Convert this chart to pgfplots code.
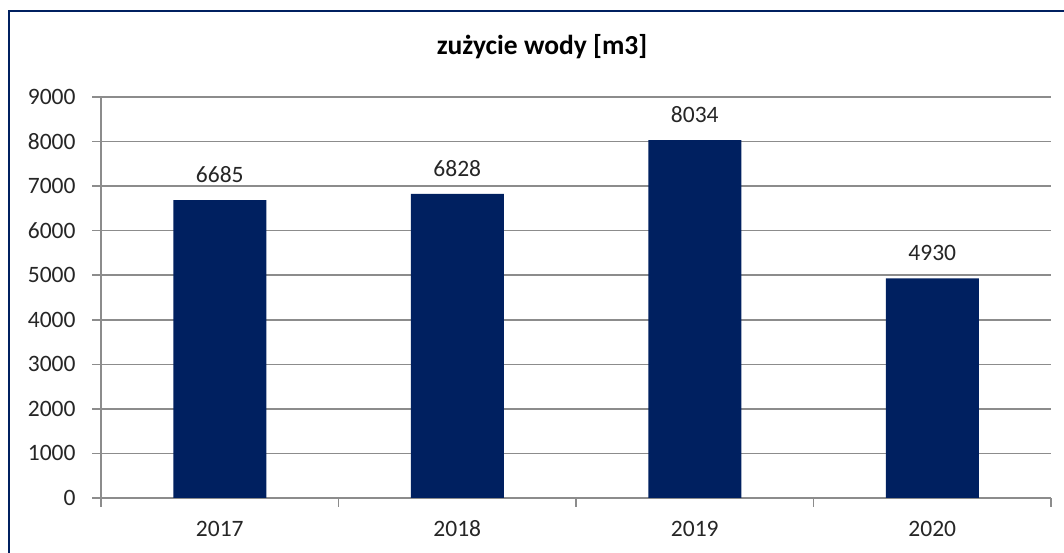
\documentclass[border=0pt]{standalone}
\usepackage{pgfplots}
\pgfplotsset{compat=1.18}
\usepackage{fontspec}
\setmainfont{Carlito}
\definecolor{barblue}{RGB}{0,32,96}
\definecolor{gridgray}{RGB}{140,140,140}
\begin{document}
\begin{tikzpicture}[x=1bp,y=1bp]
\useasboundingbox (0,0) rectangle (1064,553);
\fill[white] (0,0) rectangle (1064,553);
\draw[barblue, line width=2.5bp] (9,-10) -- (9,542) -- (1075,542);
\node[font=\fontsize{27.5bp}{32bp}\selectfont\bfseries] at (542,506) {zużycie wody [m3]};
\begin{axis}[
  at={(101bp,55bp)}, anchor=south west,
  scale only axis, width=950bp, height=401bp,
  xmin=-0.5, xmax=3.5, ymin=0, ymax=9000,
  ytick={0,1000,...,9000},
  xtick={0,1,2,3},
  xticklabels={2017,2018,2019,2020},
  minor xtick={-0.5,0.5,1.5,2.5,3.5},
  axis x line*=bottom, axis y line*=left,
  axis line style={gridgray, line width=1.5bp},
  tick align=outside,
  major tick length=9bp, minor tick length=9bp,
  x tick style={draw=none},
  minor x tick style={draw=gridgray, line width=1.5bp},
  y tick style={gridgray, line width=1.5bp},
  ymajorgrids, major grid style={gridgray, line width=1.5bp},
  /pgf/number format/assume math mode=true,
  /pgf/number format/1000 sep={},
  ticklabel style={font=\fontsize{23.5bp}{28bp}\selectfont, text=black!85},
  xticklabel style={yshift=-11bp, text height=15bp, text depth=0bp},
  yticklabel style={xshift=-13bp},
  ybar, bar width=93bp,
  nodes near coords,
  every node near coord/.append style={font=\fontsize{23.5bp}{28bp}\selectfont, text=black!85, yshift=14bp},
]
\addplot[fill=barblue, draw=none] coordinates {(0,6685) (1,6828) (2,8034) (3,4930)};
\end{axis}
\end{tikzpicture}
\end{document}
